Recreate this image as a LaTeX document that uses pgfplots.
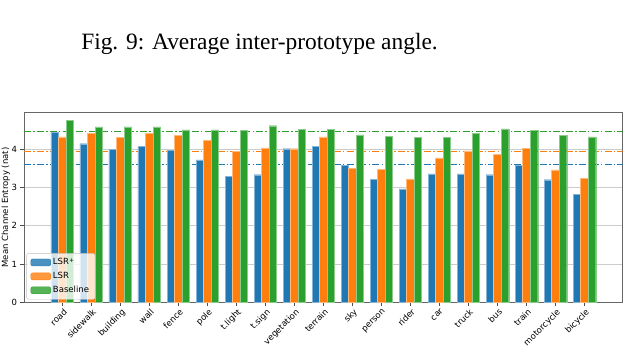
\documentclass[border=0pt]{standalone}
\usepackage{pgfplots}
\usepackage{pgfplotstable}
\pgfplotsset{compat=1.18}
\usepackage{fontspec}
\setmainfont{DejaVu Sans}
\newfontfamily\capfont{Liberation Serif}

\definecolor{tabblue}{HTML}{1F77B4}
\definecolor{taborange}{HTML}{FF7F0E}
\definecolor{tabgreen}{HTML}{2CA02C}

% x  lsrplus  lsr  baseline
\pgfplotstableread{
x  lsrp  lsr   base
0  4.43  4.32  4.75
1  4.14  4.41  4.58
2  3.99  4.30  4.58
3  4.07  4.41  4.58
4  3.97  4.36  4.50
5  3.72  4.22  4.50
6  3.28  3.94  4.49
7  3.33  4.03  4.61
8  4.01  4.01  4.52
9  4.07  4.32  4.52
10 3.58  3.49  4.37
11 3.21  3.47  4.34
12 2.96  3.22  4.30
13 3.35  3.77  4.30
14 3.35  3.95  4.41
15 3.33  3.86  4.53
16 3.57  4.02  4.48
17 3.20  3.46  4.35
18 2.81  3.24  4.32
}\entropy

\begin{document}
\begin{tikzpicture}
\path[use as bounding box] (0,0) rectangle (624pt,350pt);

\node[font=\capfont\fontsize{23.4}{28}\selectfont, anchor=base] at (259.5pt,300pt)
  {Fig. 9: Average inter-prototype angle.};

\begin{axis}[
    at={(24pt,47.7pt)}, anchor=south west,
    scale only axis,
    width=598.7pt, height=189.6pt,
    xmin=-1.32, xmax=19.32,
    ymin=0, ymax=4.95,
    xtick={0,...,18},
    xticklabels={road,sidewalk,building,wall,fence,pole,t.light,t.sign,vegetation,terrain,sky,person,rider,car,truck,bus,train,motorcycle,bicycle},
    ytick={0,1,2,3,4},
    x tick label style={rotate=45, anchor=north east, inner sep=1pt, yshift=-1pt},
    tick label style={font=\fontsize{8.5}{10}\selectfont},
    /pgf/number format/assume math mode=true,
    ylabel={Mean Channel Entropy (nat)},
    ylabel style={font=\fontsize{8.5}{10}\selectfont, inner sep=0pt,
        at={(axis description cs:-0.0234,0.5)}, anchor=south},
    tick pos=left,
    tick align=outside,
    major tick length=3.5pt,
    every tick/.style={black!70, line width=0.6pt},
    axis line style={black!60, line width=0.9pt},
    ymajorgrids=true,
    grid style={gray!40, line width=0.8pt},
    legend style={at={(0.004,0.015)}, anchor=south west,
        fill=white, fill opacity=0.8, text opacity=1,
        draw=gray!50, rounded corners=2pt,
        font=\fontsize{8.5}{10}\selectfont,
        row sep=2pt, inner xsep=4pt, inner ysep=3pt},
    legend cell align=left,
]

\addplot[tabgreen, line width=1.1pt, dash pattern=on 7pt off 2.2pt on 1.5pt off 2.2pt, forget plot]
  coordinates {(-1.32,4.47) (19.32,4.47)};
\addplot[taborange, line width=1.1pt, dash pattern=on 7pt off 2.2pt on 1.5pt off 2.2pt, forget plot]
  coordinates {(-1.32,3.94) (19.32,3.94)};
\addplot[tabblue, line width=1.1pt, dash pattern=on 7pt off 2.2pt on 1.5pt off 2.2pt, forget plot]
  coordinates {(-1.32,3.60) (19.32,3.60)};

\addplot[ybar, bar width=0.26, bar shift=-0.26, fill=tabblue, draw=tabblue!55!white, line width=0.4pt,
    legend image code/.code={\fill[tabblue] (0pt,-3.5pt) rectangle (20pt,3.5pt);}]
  table[x=x, y=lsrp] {\entropy};
\addlegendentry{LSR\textsuperscript{+}}
\addplot[ybar, bar width=0.26, bar shift=0, fill=taborange, draw=taborange!55!white, line width=0.4pt,
    legend image code/.code={\fill[taborange] (0pt,-3.5pt) rectangle (20pt,3.5pt);}]
  table[x=x, y=lsr] {\entropy};
\addlegendentry{LSR}
\addplot[ybar, bar width=0.26, bar shift=0.26, fill=tabgreen, draw=tabgreen!55!white, line width=0.4pt,
    legend image code/.code={\fill[tabgreen] (0pt,-3.5pt) rectangle (20pt,3.5pt);}]
  table[x=x, y=base] {\entropy};
\addlegendentry{Baseline}

\end{axis}
\end{tikzpicture}
\end{document}
